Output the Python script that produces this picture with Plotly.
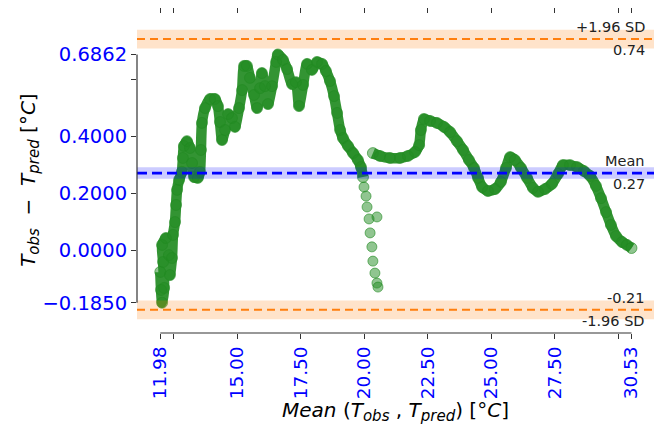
import plotly.graph_objects as go

# Bland-Altman style agreement plot: observed vs predicted temperature

# Dense trajectory, rising part (mean of Tobs/Tpred, difference)
mean_a = [11.98, 12.01, 12.05, 12.13, 12.09, 12.05, 12.20, 12.32, 12.36, 12.44,
          12.48, 12.56, 12.60, 12.64, 12.72, 12.83, 12.87, 12.91, 13.03, 13.15,
          13.23, 13.31, 13.46, 13.54, 13.58, 13.62, 13.74, 13.94, 14.13, 14.25,
          14.33, 14.41, 14.53, 14.65, 14.80, 14.92, 15.08, 15.20, 15.28, 15.39,
          15.51, 15.67, 15.79, 15.91, 15.98, 16.10, 16.22, 16.38, 16.54, 16.61,
          16.81, 16.97, 17.17, 17.32, 17.44, 17.60, 17.76, 17.95, 18.15, 18.35,
          18.50, 18.66, 18.82, 18.94, 19.06, 19.17, 19.37, 19.57, 19.76, 19.88,
          19.96]
diff_a = [-0.077, -0.140, -0.185, -0.133, -0.042, 0.018, 0.042, -0.018, -0.088, -0.028,
          0.053, 0.098, 0.158, 0.211, 0.246, 0.274, 0.323, 0.365, 0.382, 0.358,
          0.305, 0.256, 0.253, 0.274, 0.351, 0.446, 0.498, 0.530, 0.530, 0.505,
          0.449, 0.386, 0.421, 0.477, 0.463, 0.432, 0.498, 0.561, 0.646, 0.646,
          0.604, 0.544, 0.498, 0.568, 0.621, 0.575, 0.512, 0.575, 0.660, 0.6862,
          0.667, 0.635, 0.582, 0.589, 0.505, 0.579, 0.653, 0.632, 0.660, 0.653,
          0.628, 0.593, 0.540, 0.481, 0.421, 0.393, 0.365, 0.340, 0.316, 0.291,
          0.256]

# Sparse drop around 20 °C
mean_b = [20.00, 20.08, 20.12, 20.20, 20.51, 20.24, 20.31, 20.35, 20.43, 20.51, 20.55]
diff_b = [0.221, 0.189, 0.151, 0.109, 0.116, 0.060, 0.011, -0.039, -0.081, -0.116, -0.130]

# Dense trajectory, warm part
mean_c = [20.35, 20.63, 21.02, 21.42, 21.73, 22.01, 22.17, 22.24, 22.36, 22.60,
          22.87, 23.15, 23.39, 23.66, 23.90, 24.13, 24.33, 24.49, 24.65, 24.88,
          25.16, 25.39, 25.59, 25.75, 25.94, 26.18, 26.42, 26.65, 26.85, 27.13,
          27.40, 27.64, 27.83, 28.11, 28.39, 28.66, 28.90, 29.13, 29.33, 29.53,
          29.72, 29.92, 30.16, 30.35, 30.53]
diff_c = [0.340, 0.330, 0.323, 0.323, 0.330, 0.344, 0.368, 0.421, 0.460, 0.453,
          0.446, 0.432, 0.414, 0.382, 0.351, 0.316, 0.288, 0.253, 0.221, 0.207,
          0.214, 0.239, 0.288, 0.326, 0.316, 0.288, 0.253, 0.218, 0.204, 0.214,
          0.232, 0.267, 0.298, 0.298, 0.291, 0.277, 0.260, 0.225, 0.182, 0.133,
          0.088, 0.049, 0.028, 0.018, 0.007]

# Agreement statistics and confidence half-widths
mean_diff = 0.27
upper_loa = 0.74
lower_loa = -0.21
mean_ci = 0.02
loa_ci = 0.033

x_major = [12.5, 15.0, 17.5, 20.0, 22.5, 25.0, 27.5, 30.0]
y_major = [0.0, 0.2, 0.4, 0.6]

all_mean = mean_a + mean_b + mean_c
all_diff = diff_a + diff_b + diff_c
x_min, x_max = min(all_mean), max(all_mean)
y_min, y_max = min(all_diff), max(all_diff)

FONT = "DejaVu Sans"


def fmt(v, nd):
    s = f"{v:.{nd}f}"
    return s.replace("-", "\u2212")


x_ticks = [x_min] + x_major + [x_max]
x_text = [fmt(x_min, 2)] + [fmt(v, 2) if v not in (12.5, 30.0) else "" for v in x_major] + [fmt(x_max, 2)]
y_ticks = [y_min] + y_major + [y_max]
y_text = [fmt(y_min, 4)] + [fmt(v, 4) if v != 0.6 else "" for v in y_major] + [fmt(y_max, 4)]

fig = go.Figure()

for mx, dy in ((mean_a, diff_a), (mean_c, diff_c)):
    fig.add_trace(go.Scatter(
        x=mx, y=dy, mode="lines+markers",
        line=dict(color="rgba(34,139,34,0.92)", width=10.5, shape="spline", smoothing=0.6),
        marker=dict(size=11, color="rgba(34,139,34,0.5)",
                    line=dict(color="rgba(34,139,34,0.6)", width=1)),
        hoverinfo="skip", showlegend=False))

fig.add_trace(go.Scatter(
    x=mean_b, y=diff_b, mode="markers",
    marker=dict(size=10, color="rgba(34,139,34,0.5)",
                line=dict(color="rgba(34,139,34,0.6)", width=1)),
    hoverinfo="skip", showlegend=False))

# confidence bands
for level, half, col in ((upper_loa, loa_ci, "rgba(255,127,14,0.22)"),
                         (lower_loa, loa_ci, "rgba(255,127,14,0.22)"),
                         (mean_diff, mean_ci, "rgba(0,0,255,0.2)")):
    fig.add_shape(type="rect", xref="paper", x0=0, x1=1, yref="y",
                  y0=level - half, y1=level + half, fillcolor=col,
                  line=dict(width=0), layer="above")

# reference lines
fig.add_shape(type="line", xref="paper", x0=0, x1=1, yref="y", y0=upper_loa, y1=upper_loa,
              line=dict(color="#ff7f0e", width=2, dash="8px,5px"), layer="above")
fig.add_shape(type="line", xref="paper", x0=0, x1=1, yref="y", y0=lower_loa, y1=lower_loa,
              line=dict(color="#ff7f0e", width=2, dash="8px,5px"), layer="above")
fig.add_shape(type="line", xref="paper", x0=0, x1=1, yref="y", y0=mean_diff, y1=mean_diff,
              line=dict(color="#0000ff", width=2.8, dash="10px,5px"), layer="above")

# trimmed spines
fig.add_shape(type="line", xref="paper", x0=0, x1=0, yref="y", y0=y_min, y1=y_max,
              line=dict(color="#333333", width=1.2))
fig.add_shape(type="line", xref="x", x0=x_min, x1=x_max, yref="paper", y0=0, y1=0,
              line=dict(color="#333333", width=1.2))

# labels of the reference lines
labels = [("+1.96 SD", upper_loa, 12), (f"{upper_loa:.2f}", upper_loa, -11),
          ("Mean", mean_diff, 12), (f"{mean_diff:.2f}", mean_diff, -11),
          (f"{lower_loa:.2f}", lower_loa, 12), ("-1.96 SD", lower_loa, -11)]
for txt, yv, shift in labels:
    fig.add_annotation(text=txt, xref="paper", x=0.986, xanchor="right",
                       yref="y", y=yv, yshift=shift, showarrow=False,
                       font=dict(family=FONT, size=14.5, color="#222222"))

SUB = '<sub><span style="font-size:15px"><i>{}</i></span></sub>'
x_title = ("<i>Mean</i> (<i>T</i>" + SUB.format("obs") + " , <i>T</i>" + SUB.format("pred")
           + ") [°<i>C</i>]")
y_title = ("<i>T</i>" + SUB.format("obs") + "  \u2212  <i>T</i>" + SUB.format("pred")
           + " [°<i>C</i>]")

# vertical axis title placed beside the tick labels
fig.add_annotation(text=y_title, textangle=-90, xref="paper", yref="paper",
                   x=-0.207, y=0.48, xanchor="center", yanchor="middle", showarrow=False,
                   font=dict(family=FONT, size=20, color="#000000"))

fig.update_layout(
    width=654, height=425,
    margin=dict(l=137, r=0, t=14, b=92),
    plot_bgcolor="white", paper_bgcolor="white",
    font=dict(family=FONT, size=18, color="#000000"),
    xaxis=dict(range=[11.063, 31.417], showgrid=False, zeroline=False, showline=False,
               tickmode="array", tickvals=x_ticks, ticktext=x_text, tickangle=-90,
               ticks="outside", ticklen=5, tickcolor="#333333", mirror="ticks",
               tickfont=dict(family=FONT, size=18.5, color="#0000ff"),
               title=dict(text=x_title,
                          font=dict(family=FONT, size=20, color="#000000"), standoff=4)),
    yaxis=dict(range=[-0.2912, 0.8281], showgrid=False, zeroline=False, showline=False,
               tickmode="array", tickvals=y_ticks, ticktext=y_text,
               ticks="outside", ticklen=5, tickcolor="#333333",
               tickfont=dict(family=FONT, size=19.5, color="#0000ff")),
)

fig.write_html("out.html")
